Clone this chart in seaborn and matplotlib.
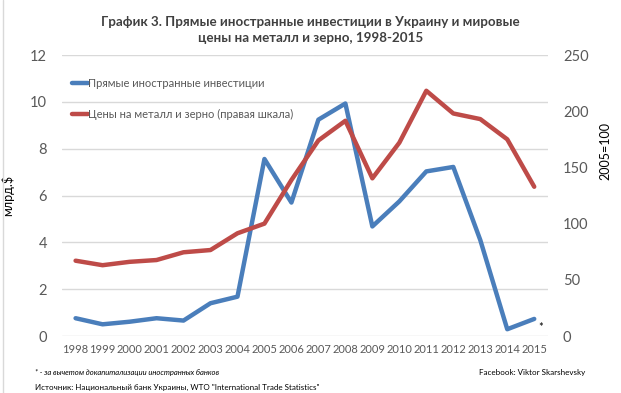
import pandas as pd
import numpy as np
import matplotlib
matplotlib.use('Agg')
import matplotlib.pyplot as plt
import seaborn as sns

years = [1998, 1999, 2000, 2001, 2002, 2003, 2004, 2005, 2006,
         2007, 2008, 2009, 2010, 2011, 2012, 2013, 2014, 2015]
fdi = [0.76, 0.50, 0.61, 0.76, 0.66, 1.40, 1.68, 7.56, 5.70,
       9.24, 9.93, 4.68, 5.75, 7.03, 7.22, 4.10, 0.29, 0.73]
prices = [67.0, 63.0, 66.0, 67.6, 74.5, 76.5, 91.4, 100.0, 138.8,
          174.0, 191.5, 140.3, 172.0, 218.2, 198.0, 193.0, 175.0, 132.8]

fdi_label = 'Прямые иностранные инвестиции'
price_label = 'Цены на металл и зерно (правая шкала)'

sns.set_style('white')
plt.rcParams['font.family'] = ['Lato', 'DejaVu Sans']

df = pd.DataFrame({'pos': np.arange(len(years)), 'year': years,
                   'fdi': fdi, 'prices': prices})

blue = '#4a7ebb'
red = '#be4b48'
grey = '#595959'

fig = plt.figure(figsize=(6.21, 3.93), dpi=100)
ax = fig.add_axes([0.1, 0.145, 0.782, 0.715])
ax2 = ax.twinx()

# gridlines (left scale)
ax.set_ylim(0, 12)
ax.set_yticks(range(0, 13, 2))
ax.yaxis.grid(True, color='#d9d9d9', linewidth=1)
ax.set_axisbelow(True)

sns.lineplot(data=df, x='pos', y='fdi', ax=ax, color=blue, linewidth=3.2,
             label=fdi_label, legend=False)
sns.lineplot(data=df, x='pos', y='prices', ax=ax2, color=red, linewidth=3.2,
             label=price_label, legend=False)

ax.set_xlim(-0.5, len(years) - 0.5)
ax.set_xticks(df['pos'])
ax.set_xticklabels(years, fontsize=8, color=grey)
ax2.set_ylim(0, 250)
ax2.set_yticks(range(0, 251, 50))

for a in (ax, ax2):
    for s in a.spines.values():
        s.set_visible(False)
    a.tick_params(length=0)

ax.tick_params(axis='y', labelsize=10.5, labelcolor=grey, pad=11)
ax2.tick_params(axis='y', labelsize=10.5, labelcolor=grey, pad=11)
ax.tick_params(axis='x', pad=6)

ax.set_xlabel('')
ax.set_ylabel('млрд.$', fontsize=9, color='black')
ax.yaxis.set_label_coords(-0.098, 0.5)
ax2.set_ylabel('2005=100', fontsize=9, color='black')
ax2.yaxis.set_label_coords(1.107, 0.66)

# asterisk at last point
ax.annotate('*', (df['pos'].iloc[-1], df['fdi'].iloc[-1]),
            xytext=(3, -9), textcoords='offset points', fontsize=8, color='black')

# legend
h1, l1 = ax.get_legend_handles_labels()
h2, l2 = ax2.get_legend_handles_labels()
leg = ax.legend(h1 + h2, l1 + l2, loc='upper left', bbox_to_anchor=(0.012, 0.935),
                frameon=False, fontsize=8, handlelength=1.4, handletextpad=0.0,
                labelspacing=1.85, borderaxespad=0)
for t in leg.get_texts():
    t.set_color(grey)

fig.text(0.5, 0.96, 'График 3. Прямые иностранные инвестиции в Украину и мировые\nцены на металл и зерно, 1998-2015',
         ha='center', va='top', fontsize=9.6, fontweight='bold', color='#404040',
         linespacing=1.45)

fig.text(0.057, 0.053, '* - за вычетом докапитализации иностранных банков',
         fontsize=5.5, style='italic', color='black', va='center')
fig.text(0.942, 0.053, 'Facebook: Viktor Skarshevsky', fontsize=5.8,
         color='black', ha='right', va='center')
fig.text(0.057, 0.015, 'Источник: Национальный банк Украины, WTO "International Trade Statistics"',
         fontsize=5.8, color='black', va='center')

fig.add_artist(plt.Line2D([0.005, 0.005], [0, 1], color='#d9d9d9', linewidth=1,
                          transform=fig.transFigure))

fig.savefig('out.png', dpi=100)
